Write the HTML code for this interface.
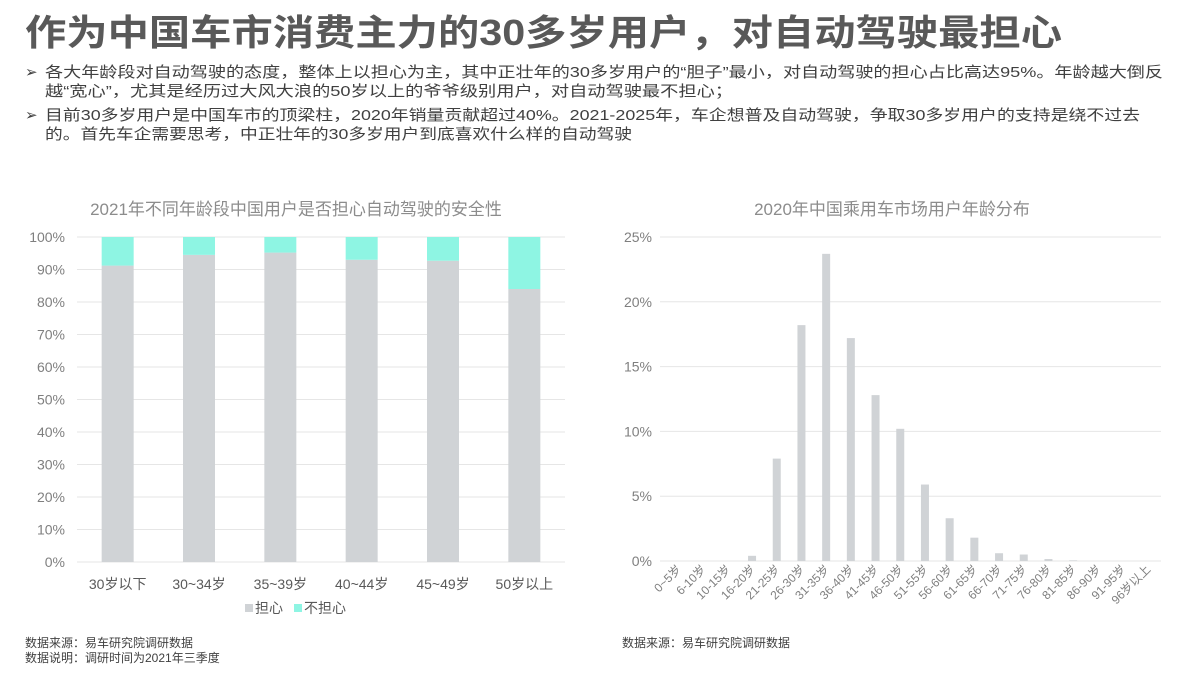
<!DOCTYPE html>
<html><head><meta charset="utf-8"><style>
body{margin:0;background:#fff;font-family:"Liberation Sans","Noto Sans CJK SC",sans-serif}
svg text{font-family:"Liberation Sans","Noto Sans CJK SC",sans-serif}
</style></head><body>
<svg id="s" width="1190" height="669" xmlns="http://www.w3.org/2000/svg">
<text x="25" y="45" font-size="36" font-weight="bold" fill="#595959" textLength="1037" lengthAdjust="spacingAndGlyphs">作为中国车市消费主力的30多岁用户，对自动驾驶最担心</text>
<g font-size="15" fill="#404040">
<text x="25" y="77">➢</text>
<text x="45" y="77" textLength="1118" lengthAdjust="spacingAndGlyphs">各大年龄段对自动驾驶的态度，整体上以担心为主，其中正壮年的30多岁用户的“胆子”最小，对自动驾驶的担心占比高达95%。年龄越大倒反</text>
<text x="45" y="96" textLength="688" lengthAdjust="spacingAndGlyphs">越“宽心”，尤其是经历过大风大浪的50岁以上的爷爷级别用户，对自动驾驶最不担心；</text>
<text x="25" y="120">➢</text>
<text x="45" y="120" textLength="1095" lengthAdjust="spacingAndGlyphs">目前30多岁用户是中国车市的顶梁柱，2020年销量贡献超过40%。2021-2025年，车企想普及自动驾驶，争取30多岁用户的支持是绕不过去</text>
<text x="45" y="139" textLength="587" lengthAdjust="spacingAndGlyphs">的。首先车企需要思考，中正壮年的30多岁用户到底喜欢什么样的自动驾驶</text>
</g>
<text x="296" y="215" text-anchor="middle" font-size="17" fill="#8c8c8c">2021年不同年龄段中国用户是否担心自动驾驶的安全性</text>
<text x="892" y="215" text-anchor="middle" font-size="17" fill="#8c8c8c">2020年中国乘用车市场用户年龄分布</text>
<g id="left"></g>
<g id="right"></g>
<g font-size="14" fill="#595959">
<rect x="245" y="604" width="8" height="8" fill="#d0d3d6"/>
<text x="255" y="613">担心</text>
<rect x="294" y="604" width="8" height="8" fill="#8ef5e3"/>
<text x="304" y="613">不担心</text>
</g>
<g font-size="12" fill="#404040">
<text x="25" y="647">数据来源：易车研究院调研数据</text>
<text x="25" y="662">数据说明：调研时间为2021年三季度</text>
<text x="622" y="647">数据来源：易车研究院调研数据</text>
</g>
</svg>
<script>
const leftCats=["30岁以下","30~34岁","35~39岁","40~44岁","45~49岁","50岁以上"];
const worried=[91.2,94.5,95.2,93.0,92.7,84.0];
const leftTicks=[0,10,20,30,40,50,60,70,80,90,100];
const rightCats=["0~5岁","6-10岁","10-15岁","16-20岁","21-25岁","26-30岁","31-35岁","36-40岁","41-45岁","46-50岁","51-55岁","56-60岁","61-65岁","66-70岁","71-75岁","76-80岁","81-85岁","86-90岁","91-95岁","96岁以上"];
const share=[0,0,0,0.4,7.9,18.2,23.7,17.2,12.8,10.2,5.9,3.3,1.8,0.6,0.5,0.15,0.05,0,0,0];
const rightTicks=[0,5,10,15,20,25];
const NS="http://www.w3.org/2000/svg";
function mk(p,t,a){const e=document.createElementNS(NS,t);for(const k in a)e.setAttribute(k,a[k]);p.appendChild(e);return e;}
// left
const L=document.getElementById('left');
const ly=v=>562-v*3.25, lx0=77, lx1=565, lband=(lx1-lx0)/leftCats.length;
leftTicks.forEach(t=>{
 const g=mk(L,'line',{x1:lx0,x2:lx1,y1:ly(t),y2:ly(t),stroke:'#e6e6e6'});
 
 
 const tx=mk(L,'text',{x:65,y:ly(t)+5,'text-anchor':'end','font-size':14,fill:'#7f7f7f'});tx.textContent=t+'%';
 
 
});
leftCats.forEach((c,i)=>{
 const cx=lx0+lband*(i+0.5), w=32;
 const b=mk(L,'rect',{x:cx-w/2,y:ly(worried[i]),width:w,height:ly(0)-ly(worried[i]),fill:'#d0d3d6'});
 
 
 const b2=mk(L,'rect',{x:cx-w/2,y:ly(100),width:w,height:ly(worried[i])-ly(100),fill:'#8ef5e3'});
 
 
 const tx=mk(L,'text',{x:cx,y:589,'text-anchor':'middle','font-size':14,fill:'#595959'});tx.textContent=c;
 
 
});
// right
const R=document.getElementById('right');
const ry=v=>561-v*12.96, rx0=660, rx1=1161, rband=24.7, rstart=665.6;
rightTicks.forEach(t=>{
 const g=mk(R,'line',{x1:rx0,x2:rx1,y1:ry(t),y2:ry(t),stroke:'#e6e6e6'});
 
 
 const tx=mk(R,'text',{x:652,y:ry(t)+5,'text-anchor':'end','font-size':14,fill:'#7f7f7f'});tx.textContent=t+'%';
 
 
});
rightCats.forEach((c,i)=>{
 const cx=rstart+rband*(i+0.5)-12.35+12.35, w=8;
 const b=mk(R,'rect',{x:cx-w/2,y:ry(share[i]),width:w,height:ry(0)-ry(share[i]),fill:'#d0d3d6'});
 
 
 const tx=mk(R,'text',{x:cx+4,y:570,'text-anchor':'end','font-size':12,fill:'#7f7f7f',transform:`rotate(-45 ${cx+4} 570)`});tx.textContent=c;
 
 
});
</script>
</body></html>
